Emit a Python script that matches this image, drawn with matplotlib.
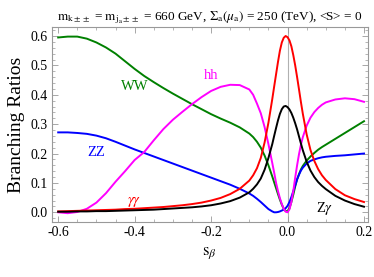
import matplotlib
matplotlib.use("Agg")
import matplotlib.pyplot as plt
from matplotlib.ticker import MultipleLocator, FormatStrFormatter

plt.rcParams['font.family'] = ['Liberation Serif', 'DejaVu Serif']
plt.rcParams['mathtext.fontset'] = 'stix'

s_beta = [-0.6, -0.575, -0.55, -0.525, -0.5, -0.475, -0.45, -0.425, -0.4, -0.375,
          -0.35, -0.325, -0.3, -0.275, -0.25, -0.225, -0.2, -0.175, -0.15, -0.125,
          -0.1, -0.09, -0.08, -0.07, -0.06, -0.05, -0.04, -0.035, -0.03, -0.025,
          -0.02, -0.015, -0.01, -0.005, 0.0, 0.005, 0.01, 0.015, 0.02, 0.025,
          0.03, 0.035, 0.04, 0.05, 0.06, 0.07, 0.08, 0.09, 0.1, 0.125,
          0.15, 0.175, 0.2]

br_WW = [0.595, 0.598, 0.598, 0.591, 0.578, 0.561, 0.540, 0.514, 0.488, 0.464,
         0.443, 0.423, 0.404, 0.386, 0.368, 0.351, 0.334, 0.319, 0.305, 0.289,
         0.268, 0.256, 0.240, 0.220, 0.193, 0.160, 0.122, 0.102, 0.082, 0.062,
         0.043, 0.026, 0.012, 0.004, 0.004, 0.014, 0.035, 0.060, 0.088, 0.112,
         0.130, 0.146, 0.158, 0.176, 0.190, 0.202, 0.213, 0.222, 0.230, 0.250,
         0.270, 0.290, 0.310]

br_ZZ = [0.272, 0.272, 0.270, 0.267, 0.261, 0.252, 0.240, 0.227, 0.214, 0.202,
         0.190, 0.178, 0.166, 0.154, 0.142, 0.130, 0.118, 0.106, 0.094, 0.080,
         0.064, 0.056, 0.046, 0.035, 0.023, 0.011, 0.003, 0.000, 0.000, 0.001,
         0.003, 0.006, 0.009, 0.014, 0.022, 0.035, 0.052, 0.072, 0.092, 0.112,
         0.128, 0.142, 0.152, 0.166, 0.175, 0.180, 0.184, 0.187, 0.189, 0.192,
         0.194, 0.197, 0.200]

br_hh = [0.000, -0.003, 0.001, 0.012, 0.033, 0.065, 0.104, 0.140, 0.178, 0.205,
         0.245, 0.283, 0.315, 0.342, 0.368, 0.392, 0.413, 0.427, 0.434, 0.433,
         0.418, 0.400, 0.370, 0.337, 0.290, 0.232, 0.168, 0.135, 0.100, 0.072,
         0.048, 0.028, 0.012, 0.002, 0.000, 0.010, 0.035, 0.072, 0.118, 0.160,
         0.198, 0.230, 0.256, 0.295, 0.322, 0.341, 0.355, 0.366, 0.374, 0.384,
         0.388, 0.385, 0.376]

br_gg = [0.003, 0.004, 0.005, 0.006, 0.007, 0.008, 0.009, 0.011, 0.012, 0.014,
         0.016, 0.018, 0.021, 0.024, 0.028, 0.033, 0.040, 0.049, 0.062, 0.080,
         0.108, 0.126, 0.150, 0.185, 0.238, 0.305, 0.385, 0.428, 0.470, 0.512,
         0.550, 0.578, 0.594, 0.600, 0.596, 0.585, 0.565, 0.535, 0.500, 0.460,
         0.418, 0.375, 0.335, 0.265, 0.212, 0.175, 0.147, 0.126, 0.110, 0.079,
         0.058, 0.045, 0.035]

br_Zg = [0.002, 0.002, 0.003, 0.003, 0.004, 0.004, 0.005, 0.006, 0.007, 0.008,
         0.009, 0.011, 0.013, 0.015, 0.017, 0.020, 0.024, 0.030, 0.038, 0.050,
         0.068, 0.080, 0.095, 0.115, 0.145, 0.185, 0.232, 0.260, 0.287, 0.313,
         0.335, 0.351, 0.360, 0.362, 0.358, 0.350, 0.338, 0.322, 0.303, 0.282,
         0.258, 0.234, 0.211, 0.172, 0.142, 0.120, 0.103, 0.090, 0.079, 0.056,
         0.040, 0.028, 0.019]

series = [
    ("WW", br_WW, "#008000"),
    ("ZZ", br_ZZ, "#0000ff"),
    ("hh", br_hh, "#ff00ff"),
    (r"$\gamma\gamma$", br_gg, "#ff0000"),
    (r"Z$\gamma$", br_Zg, "#000000"),
]

label_pos = {
    "WW": (-0.399, 0.428),
    "ZZ": (-0.50, 0.203),
    "hh": (-0.20, 0.464),
    r"$\gamma\gamma$": (-0.40, 0.036),
    r"Z$\gamma$": (0.097, 0.012),
}

fig = plt.figure(figsize=(3.74, 2.77), dpi=100)
ax = fig.add_axes([0.1382, 0.1975, 0.9840 - 0.1382, 0.9014 - 0.1975])

ax.axvline(0.0, color='#b0b0b0', lw=0.8, zorder=1)

for name, vals, col in series:
    ax.plot(s_beta, vals, color=col, lw=1.4, zorder=3)
    lx, ly = label_pos[name]
    ax.text(lx, ly, name, color=col, fontsize=10.5, ha='center', va='center', zorder=4)

ax.set_xlim(-0.617, 0.2105)
ax.set_ylim(-0.034, 0.6296)

ax.xaxis.set_major_locator(MultipleLocator(0.2))
ax.xaxis.set_minor_locator(MultipleLocator(0.05))
ax.yaxis.set_major_locator(MultipleLocator(0.1))
ax.yaxis.set_minor_locator(MultipleLocator(0.02))
ax.xaxis.set_major_formatter(FormatStrFormatter('%.1f'))
ax.yaxis.set_major_formatter(FormatStrFormatter('%.1f'))

ax.tick_params(which='both', direction='in', top=True, right=True, color='#999999',
               labelsize=10, pad=3)
ax.tick_params(which='major', length=4, width=0.6)
ax.tick_params(which='minor', length=2, width=0.5)
for sp in ax.spines.values():
    sp.set_color('#999999')
    sp.set_linewidth(0.8)

ax.set_xlabel(r"$\mathrm{s}_{\beta}$", fontsize=12, labelpad=4)
ax.set_ylabel("Branching Ratios", fontsize=14, labelpad=4)
ax.set_title(r"$\mathrm{m_{k\pm\pm}}$ = $\mathrm{m_{j_a\pm\pm}}$ = 660 GeV, "
             r"$\Sigma_\mathrm{a}(\mu_\mathrm{a})$ = 250 (TeV), <S> = 0",
             fontsize=9.5, pad=5)

fig.savefig("out.png", dpi=100)
